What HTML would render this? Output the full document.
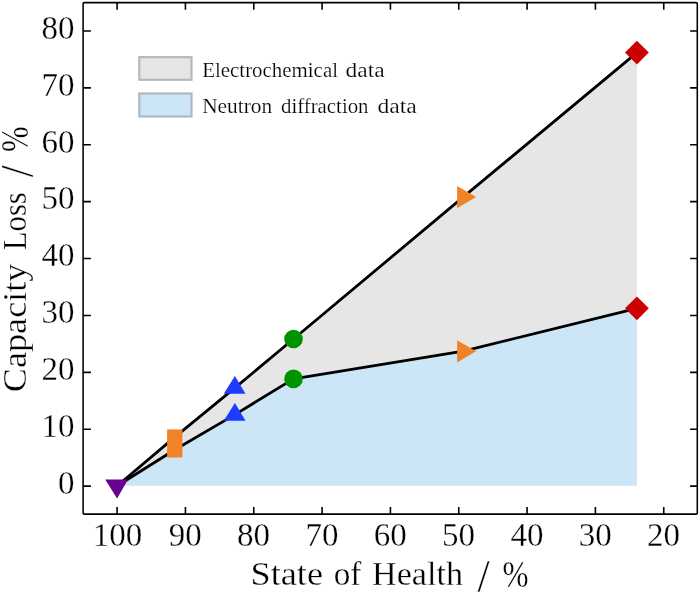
<!DOCTYPE html>
<html><head><meta charset="utf-8"><title>Capacity Loss vs State of Health</title>
<style>html,body{margin:0;padding:0;background:#fff}body{width:700px;height:595px;overflow:hidden}</style></head>
<body>
<svg width="700" height="595" viewBox="0 0 700 595" style="display:block">
<rect width="700" height="595" fill="#fff"/>
<polygon points="117.0,486.0 174.8,449.8 234.9,414.6 293.5,378.9 463.4,351.2 636.9,308.3 636.9,485.8 117.0,485.8" fill="#cce5f7"/>
<polygon points="117.0,486.0 174.8,437.1 234.9,387.8 293.5,339.0 463.4,196.9 636.9,52.6 636.9,308.3 463.4,351.2 293.5,378.9 234.9,414.6 174.8,449.8 117.0,486.0" fill="#e6e6e6"/>
<polyline points="117.0,486.0 174.8,437.1 234.9,387.8 293.5,339.0 463.4,196.9 636.9,52.6" fill="none" stroke="#000" stroke-width="2.8" stroke-linejoin="round"/>
<polyline points="117.0,486.0 174.8,449.8 234.9,414.6 293.5,378.9 463.4,351.2 636.9,308.3" fill="none" stroke="#000" stroke-width="2.8" stroke-linejoin="round"/>
<polygon points="105.2,479.5 128.0,479.5 117.1,498.4" fill="#6a008e"/>
<rect x="167.1" y="429.4" width="15.3" height="28.1" fill="#f08228"/>
<polygon points="234.9,376.1 245.5,393.8 223.8,393.8" fill="#1e3cff"/>
<polygon points="234.9,403.0 245.5,420.7 223.8,420.7" fill="#1e3cff"/>
<circle cx="293.5" cy="339.0" r="9.3" fill="#009300"/>
<circle cx="293.5" cy="378.9" r="9.3" fill="#009300"/>
<polygon points="457.1,186.0 476.1,197.1 457.1,208.2" fill="#f08228"/>
<polygon points="457.1,340.2 476.1,351.3 457.1,362.4" fill="#f08228"/>
<polygon points="636.9,40.7 648.8,52.6 636.9,64.5 625.0,52.6" fill="#cc0000"/>
<polygon points="636.9,296.4 648.8,308.3 636.9,320.2 625.0,308.3" fill="#cc0000"/>
<path d="M117.10,514.1v-7.2M117.10,2.6v7.2M83.1,486.15h7.8M697.3,486.15h-7.2M185.43,514.1v-7.2M185.43,2.6v7.2M83.1,429.25h7.8M697.3,429.25h-7.2M253.76,514.1v-7.2M253.76,2.6v7.2M83.1,372.35h7.8M697.3,372.35h-7.2M322.09,514.1v-7.2M322.09,2.6v7.2M83.1,315.45h7.8M697.3,315.45h-7.2M390.42,514.1v-7.2M390.42,2.6v7.2M83.1,258.55h7.8M697.3,258.55h-7.2M458.75,514.1v-7.2M458.75,2.6v7.2M83.1,201.65h7.8M697.3,201.65h-7.2M527.08,514.1v-7.2M527.08,2.6v7.2M83.1,144.75h7.8M697.3,144.75h-7.2M595.41,514.1v-7.2M595.41,2.6v7.2M83.1,87.85h7.8M697.3,87.85h-7.2M663.74,514.1v-7.2M663.74,2.6v7.2M83.1,30.95h7.8M697.3,30.95h-7.2" stroke="#000" stroke-width="1.6" fill="none"/>
<rect x="83.1" y="2.6" width="614.2" height="511.5" rx="1.2" fill="none" stroke="#000" stroke-width="1.55" stroke-linejoin="round"/>
<rect x="139.3" y="57.15" width="52.2" height="22.65" fill="#e6e6e6" stroke="#b8b8b8" stroke-width="2.2"/>
<rect x="139.3" y="93.5" width="52.2" height="23.0" fill="#cce5f7" stroke="#adb8c1" stroke-width="2.2"/>
<g font-family="'Liberation Serif', serif" fill="#000" stroke="#fff" stroke-width="0.3">
<g stroke-width="0.2">
<text x="202.2" y="77.1" font-size="20" textLength="135.8" lengthAdjust="spacingAndGlyphs" text-anchor="start">Electrochemical</text>
<text x="345.5" y="77.1" font-size="20" textLength="39.1" lengthAdjust="spacingAndGlyphs" text-anchor="start">data</text>
<text x="202.2" y="113.0" font-size="20" textLength="70.0" lengthAdjust="spacingAndGlyphs" text-anchor="start">Neutron</text>
<text x="281.0" y="113.0" font-size="20" textLength="87.5" lengthAdjust="spacingAndGlyphs" text-anchor="start">diffraction</text>
<text x="377.4" y="113.0" font-size="20" textLength="39.4" lengthAdjust="spacingAndGlyphs" text-anchor="start">data</text>
</g>
<text x="117.4" y="546.2" font-size="33" text-anchor="middle">100</text>
<text x="185.2" y="546.2" font-size="33" text-anchor="middle">90</text>
<text x="253.6" y="546.2" font-size="33" text-anchor="middle">80</text>
<text x="321.9" y="546.2" font-size="33" text-anchor="middle">70</text>
<text x="390.2" y="546.2" font-size="33" text-anchor="middle">60</text>
<text x="458.6" y="546.2" font-size="33" text-anchor="middle">50</text>
<text x="526.9" y="546.2" font-size="33" text-anchor="middle">40</text>
<text x="595.2" y="546.2" font-size="33" text-anchor="middle">30</text>
<text x="663.5" y="546.2" font-size="33" text-anchor="middle">20</text>
<text x="74.6" y="493.9" font-size="33" text-anchor="end">0</text>
<text x="74.6" y="437.1" font-size="33" text-anchor="end">10</text>
<text x="74.6" y="380.1" font-size="33" text-anchor="end">20</text>
<text x="74.6" y="323.2" font-size="33" text-anchor="end">30</text>
<text x="74.6" y="266.3" font-size="33" text-anchor="end">40</text>
<text x="74.6" y="209.4" font-size="33" text-anchor="end">50</text>
<text x="74.6" y="152.6" font-size="33" text-anchor="end">60</text>
<text x="74.6" y="95.6" font-size="33" text-anchor="end">70</text>
<text x="74.6" y="38.7" font-size="33" text-anchor="end">80</text>
<text x="250.5" y="585" font-size="33" textLength="72.5" lengthAdjust="spacingAndGlyphs" text-anchor="start">State</text>
<text x="333.8" y="585" font-size="33" textLength="27.6" lengthAdjust="spacingAndGlyphs" text-anchor="start">of</text>
<text x="372.0" y="585" font-size="33" textLength="91.0" lengthAdjust="spacingAndGlyphs" text-anchor="start">Health</text>
<text x="477.4" y="591.9" font-size="47.4" textLength="12.2" lengthAdjust="spacingAndGlyphs" text-anchor="start">/</text>
<text x="502.6" y="586.7" font-size="38.9" textLength="26.0" lengthAdjust="spacingAndGlyphs" text-anchor="start">%</text>
<g transform="translate(26.2,391.2) rotate(-90)">
<text x="-1.0" y="0" font-size="33" textLength="128.6" lengthAdjust="spacingAndGlyphs" text-anchor="start">Capacity</text>
<text x="141" y="0" font-size="33" textLength="58" lengthAdjust="spacingAndGlyphs" text-anchor="start">Loss</text>
<text x="213.9" y="6.8" font-size="46" textLength="11.9" lengthAdjust="spacingAndGlyphs" text-anchor="start">/</text>
<text x="239.2" y="1.5" font-size="39" textLength="25.6" lengthAdjust="spacingAndGlyphs" text-anchor="start">%</text>
</g>
</g>
</svg>
</body></html>
